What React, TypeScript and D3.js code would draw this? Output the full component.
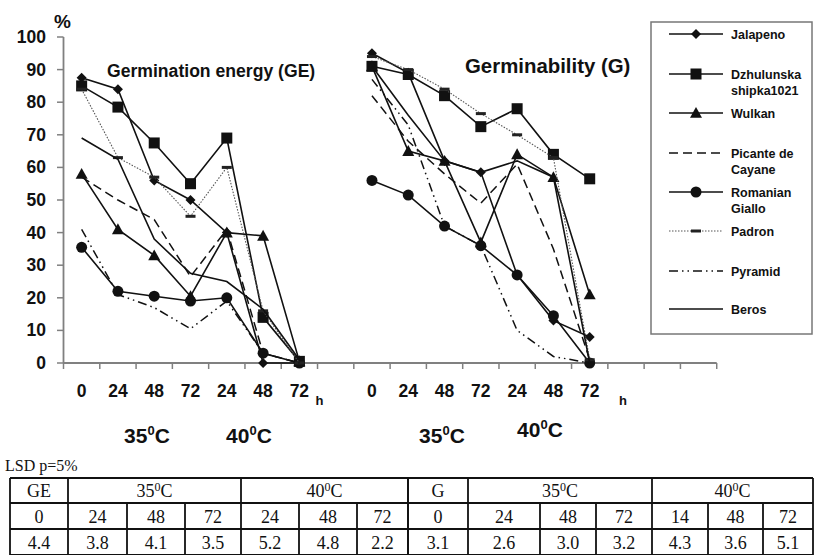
import React from "react";
import * as d3 from "d3";

const categories = ["0", "24", "48", "72", "24", "48", "72", "", "0", "24", "48", "72", "24", "48", "72", "", "", ""];
const yTicks = [0, 10, 20, 30, 40, 50, 60, 70, 80, 90, 100];

const seriesNames = ["Jalapeno", "Dzhulunska shipka1021", "Wulkan", "Picante de Cayane", "Romanian Giallo", "Padron", "Pyramid", "Beros"];

// GE panel (index 0..6), G panel (index 8..14)
const jalapenoGE = [87.5, 84, 56, 50, 40, 0, 0];
const jalapenoG = [95, 89, 62, 58.5, 27, 13, 8];
const dzhulunskaGE = [85, 78.5, 67.5, 55, 69, 14, 0.5];
const dzhulunskaG = [91, 88.5, 82, 72.5, 78, 64, 56.5];
const wulkanGE = [58, 41, 33, 20.5, 40, 39, 0.5];
const wulkanG = [91, 65, 62, 37, 64, 57, 21];
const picanteGE = [57, 50, 44, 26.5, 41, 3, 0];
const picanteG = [82, 68, 58, 49, 61, 35, 1];
const romanianGE = [35.5, 22, 20.5, 19, 20, 3, 0];
const romanianG = [56, 51.5, 42, 36, 27, 14.5, 0];
const padronGE = [84, 63, 57, 45, 60, 16, 0];
const padronG = [94, 90, 84, 76.5, 70, 63, 1];
const pyramidGE = [41, 21, 17, 10.5, 19, 3, 0];
const pyramidG = [87, 73, 42, 36, 10, 2, 0];
const berosGE = [69, 62.5, 38, 27.5, 25, 16.5, 1];
const berosG = [91, 76, 62, 58.5, 62, 57, 0];

const lsdGE = ["4.4", "3.8", "4.1", "3.5", "5.2", "4.8", "2.2"];
const lsdGHours = ["0", "24", "48", "72", "14", "48", "72"];
const lsdGEHours = ["0", "24", "48", "72", "24", "48", "72"];
const lsdG = ["3.1", "2.6", "3.0", "3.2", "4.3", "3.6", "5.1"];

type Style = { dash?: string; marker: string; stroke: string; width: number };
const styles: Style[] = [
  { marker: "diamond", stroke: "#111", width: 1.6 },
  { marker: "square", stroke: "#111", width: 1.6 },
  { marker: "triangle", stroke: "#111", width: 1.6 },
  { dash: "9,5", marker: "none", stroke: "#111", width: 1.5 },
  { marker: "circle", stroke: "#111", width: 1.6 },
  { dash: "1.5,1.5", marker: "bar", stroke: "#555", width: 1.1 },
  { dash: "9,4,1.5,4,1.5,4", marker: "none", stroke: "#111", width: 1.5 },
  { marker: "none", stroke: "#111", width: 1.6 },
];

const panelsData = [
  [jalapenoGE, jalapenoG],
  [dzhulunskaGE, dzhulunskaG],
  [wulkanGE, wulkanG],
  [picanteGE, picanteG],
  [romanianGE, romanianG],
  [padronGE, padronG],
  [pyramidGE, pyramidG],
  [berosGE, berosG],
];

const FONT = "'Liberation Sans', Arial, sans-serif";
const SERIF = "'Liberation Serif', 'Times New Roman', serif";

function Marker({ kind, x, y }: { kind: string; x: number; y: number }) {
  const c = "#111";
  if (kind === "diamond") {
    const s = 5;
    return <path d={`M${x},${y - s}L${x + s},${y}L${x},${y + s}L${x - s},${y}Z`} fill={c} />;
  }
  if (kind === "square") {
    const s = 5.5;
    return <rect x={x - s} y={y - s} width={2 * s} height={2 * s} fill={c} />;
  }
  if (kind === "triangle") {
    const s = 6;
    return <path d={`M${x},${y - s}L${x + s},${y + s * 0.8}L${x - s},${y + s * 0.8}Z`} fill={c} />;
  }
  if (kind === "circle") {
    return <circle cx={x} cy={y} r={5.5} fill={c} />;
  }
  if (kind === "bar") {
    return <rect x={x - 5} y={y - 1.5} width={10} height={3} fill="#222" />;
  }
  return null;
}

export default function App() {
  const n = categories.length;
  const x = d3.scaleBand<number>().domain(d3.range(n)).range([63.5, 63.5 + n * 36.29]);
  const cx = (i: number) => (x(i) as number) + x.bandwidth() / 2;
  const y = d3.scaleLinear().domain([0, 100]).range([363, 37]);
  const line = d3
    .line<[number, number]>()
    .x((d) => cx(d[0]))
    .y((d) => y(d[1]));

  const axisColor = "#808080";

  const legendRows = [
    { y: 34, lines: ["Jalapeno"] },
    { y: 74, lines: ["Dzhulunska", "shipka1021"] },
    { y: 113, lines: ["Wulkan"] },
    { y: 153, lines: ["Picante de", "Cayane"] },
    { y: 192, lines: ["Romanian", "Giallo"] },
    { y: 231, lines: ["Padron"] },
    { y: 271, lines: ["Pyramid"] },
    { y: 309, lines: ["Beros"] },
  ];

  // table columns
  const colsLeft = [10, 68, 127, 185, 241, 299, 357, 408];
  const colsRight = [408, 468, 540, 596, 652, 708, 763, 813];
  const rowsY = [478, 503, 529, 555];

  return (
    <svg width={815} height={555} style={{ position: "absolute", left: 0, top: 0, background: "#fff" }}>
      <rect x={0} y={0} width={815} height={555} fill="#fff" />
      {/* Y axis */}
      <line x1={63.5} x2={63.5} y1={y(100)} y2={y(0)} stroke={axisColor} strokeWidth={1.8} />
      {yTicks.map((t) => (
        <g key={t}>
          <line x1={57} x2={63.5} y1={y(t)} y2={y(t)} stroke={axisColor} strokeWidth={1.5} />
          <text x={46} y={y(t) + 6} textAnchor="end" fontFamily={FONT} fontWeight="bold" fontSize={17.5} fill="#111">
            {t}
          </text>
        </g>
      ))}
      <text x={54} y={28} fontFamily={FONT} fontWeight="bold" fontSize={19} fill="#111">
        %
      </text>
      {/* X axis */}
      <line x1={63.5} x2={63.5 + n * 36.29} y1={y(0)} y2={y(0)} stroke={axisColor} strokeWidth={1.8} />
      {d3.range(n + 1).map((i) => {
        const xx = i < n ? (x(i) as number) : 63.5 + n * 36.29;
        return <line key={i} x1={xx} x2={xx} y1={y(0)} y2={y(0) + 6} stroke={axisColor} strokeWidth={1.5} />;
      })}
      {categories.map((c, i) =>
        c ? (
          <text key={i} x={cx(i)} y={397} textAnchor="middle" fontFamily={FONT} fontWeight="bold" fontSize={17.5} fill="#111">
            {c}
          </text>
        ) : null
      )}
      <text x={cx(6) + 20} y={405} textAnchor="middle" fontFamily={FONT} fontWeight="bold" fontSize={13} fill="#111">
        h
      </text>
      <text x={cx(15) - 3} y={405} textAnchor="middle" fontFamily={FONT} fontWeight="bold" fontSize={13} fill="#111">
        h
      </text>
      {[
        { x: 147, y: 443 },
        { x: 249, y: 443 },
        { x: 442, y: 443 },
        { x: 540, y: 437 },
      ].map((p, i) => (
        <text key={i} x={p.x} y={p.y} textAnchor="middle" fontFamily={FONT} fontWeight="bold" fontSize={21} fill="#111">
          {i % 2 === 0 ? "35" : "40"}
          <tspan dy={-8} fontSize={13}>0</tspan>
          <tspan dy={8}>C</tspan>
        </text>
      ))}
      {/* Titles */}
      <text x={107} y={77} fontFamily={FONT} fontWeight="bold" fontSize={17.6} fill="#111">
        Germination energy (GE)
      </text>
      <text x={465} y={73} fontFamily={FONT} fontWeight="bold" fontSize={20.4} fill="#111">
        Germinability (G)
      </text>
      {/* Series */}
      {panelsData.map((pair, si) => {
        const st = styles[si];
        return (
          <g key={si}>
            {pair.map((vals, pi) => {
              const off = pi === 0 ? 0 : 8;
              const pts: [number, number][] = vals.map((v, k) => [k + off, v]);
              return (
                <g key={pi}>
                  <path d={line(pts) || ""} fill="none" stroke={st.stroke} strokeWidth={st.width} strokeDasharray={st.dash} />
                  {pts.map((p, k) => (
                    <Marker key={k} kind={st.marker} x={cx(p[0])} y={y(p[1])} />
                  ))}
                </g>
              );
            })}
          </g>
        );
      })}
      {/* Legend */}
      <rect x={651} y={22} width={161} height={312} fill="#fff" stroke="#777" strokeWidth={1.5} />
      {legendRows.map((r, i) => {
        const st = styles[i];
        return (
          <g key={i}>
            <line x1={669} x2={723} y1={r.y} y2={r.y} stroke={st.stroke} strokeWidth={st.width} strokeDasharray={st.dash} />
            <Marker kind={st.marker} x={696} y={r.y} />
            {r.lines.map((t, k) => (
              <text key={k} x={731} y={r.y + 4.5 + k * 16} fontFamily={FONT} fontWeight="bold" fontSize={12.5} fill="#111">
                {t}
              </text>
            ))}
          </g>
        );
      })}
      {/* LSD table */}
      <text x={5} y={471} fontFamily={SERIF} fontSize={16} fill="#111">
        LSD p=5%
      </text>
      {[colsLeft, colsRight].map((cols, ti) => {
        const head = ti === 0 ? "GE" : "G";
        const hours = ti === 0 ? lsdGEHours : lsdGHours;
        const vals = ti === 0 ? lsdGE : lsdG;
        const cellC = (a: number, b: number) => (a + b) / 2;
        return (
          <g key={ti}>
            {rowsY.map((ry, k) => (
              <line key={k} x1={cols[0]} x2={cols[7]} y1={ry} y2={ry} stroke="#111" strokeWidth={1.8} />
            ))}
            {cols.map((cxx, k) => {
              const top = k === 2 || k === 3 || k === 5 || k === 6 ? rowsY[1] : rowsY[0];
              return <line key={k} x1={cxx} x2={cxx} y1={top} y2={rowsY[3]} stroke="#111" strokeWidth={1.8} />;
            })}
            <text x={cellC(cols[0], cols[1])} y={497} textAnchor="middle" fontFamily={SERIF} fontSize={18} fill="#111">
              {head}
            </text>
            {[
              [cols[1], cols[4], "35"],
              [cols[4], cols[7], "40"],
            ].map((h, k) => (
              <text key={k} x={cellC(h[0] as number, h[1] as number)} y={497} textAnchor="middle" fontFamily={SERIF} fontSize={18} fill="#111">
                {h[2] as string}
                <tspan dy={-6} fontSize={12}>0</tspan>
                <tspan dy={6}>C</tspan>
              </text>
            ))}
            {hours.map((h, k) => (
              <text key={k} x={cellC(cols[k], cols[k + 1])} y={523} textAnchor="middle" fontFamily={SERIF} fontSize={18} fill="#111">
                {h}
              </text>
            ))}
            {vals.map((h, k) => (
              <text key={k} x={cellC(cols[k], cols[k + 1])} y={549} textAnchor="middle" fontFamily={SERIF} fontSize={18} fill="#111">
                {h}
              </text>
            ))}
          </g>
        );
      })}
    </svg>
  );
}
